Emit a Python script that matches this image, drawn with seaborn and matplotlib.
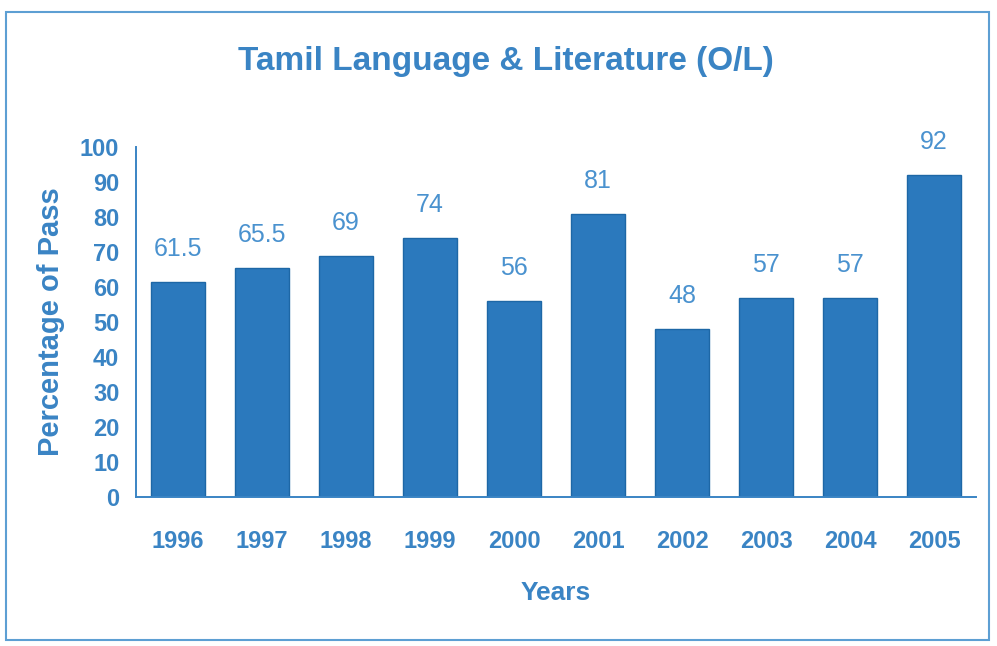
import matplotlib
matplotlib.use('Agg')
import matplotlib.pyplot as plt
from matplotlib.patches import Rectangle
import seaborn as sns
import pandas as pd

# data
years = ['1996', '1997', '1998', '1999', '2000', '2001', '2002', '2003', '2004', '2005']
pass_pct = [61.5, 65.5, 69, 74, 56, 81, 48, 57, 57, 92]
value_labels = ['61.5', '65.5', '69', '74', '56', '81', '48', '57', '57', '92']
y_ticks = [0, 10, 20, 30, 40, 50, 60, 70, 80, 90, 100]

bar_col = '#2b79bd'
txt_col = '#3a84c4'
lbl_col = '#4a92cf'

sns.set_style('white')
plt.rcParams['font.family'] = ['Liberation Sans', 'DejaVu Sans']

df = pd.DataFrame({'Years': years, 'Pass': pass_pct})

fig = plt.figure(figsize=(9.97, 6.46), dpi=100)
ax = fig.add_axes([0.1364, 0.2307, 0.979 - 0.1364, 0.7724 - 0.2307])

sns.barplot(data=df, x='Years', y='Pass', color=bar_col, saturation=1, width=0.65, ax=ax)
for p in ax.patches:
    p.set_edgecolor('#1d67a6')
    p.set_linewidth(1)

for i, (v, s) in enumerate(zip(pass_pct, value_labels)):
    ax.text(i, v + 6, s, ha='center', va='bottom', fontsize=18, color=lbl_col)

ax.set_xlim(-0.5, len(years) - 0.5)
ax.set_ylim(0, 100)
ax.set_yticks(y_ticks)
ax.set_xticks(range(len(years)))
ax.set_xticks([i - 0.5 for i in range(len(years))], minor=True)
ax.tick_params(axis='x', which='major', length=0, pad=24, labelsize=17, labelcolor=txt_col)
ax.tick_params(axis='x', which='minor', length=8, color=txt_col, direction='out', width=1.2)
ax.tick_params(axis='y', length=8, color=txt_col, width=1.2, labelsize=17, labelcolor=txt_col, pad=4)
for t in ax.get_xticklabels() + ax.get_yticklabels():
    t.set_fontweight('bold')

for s in ['top', 'right']:
    ax.spines[s].set_visible(False)
for s in ['left', 'bottom']:
    ax.spines[s].set_color(txt_col)
    ax.spines[s].set_linewidth(1.4)

ax.set_xlabel('Years', fontsize=19, fontweight='bold', color=txt_col, labelpad=20)
ax.set_ylabel('Percentage of Pass', fontsize=21, fontweight='bold', color=txt_col)
ax.yaxis.set_label_coords(-0.085, 0.5)

fig.text(0.507, 0.905, 'Tamil Language & Literature (O/L)', ha='center', va='center',
         fontsize=24, fontweight='bold', color=txt_col)

fig.patches.append(Rectangle((0.006, 0.01), 0.986, 0.972, transform=fig.transFigure,
                             fill=False, edgecolor='#5d9fd3', linewidth=1.5))

fig.savefig('out.png', dpi=100)
